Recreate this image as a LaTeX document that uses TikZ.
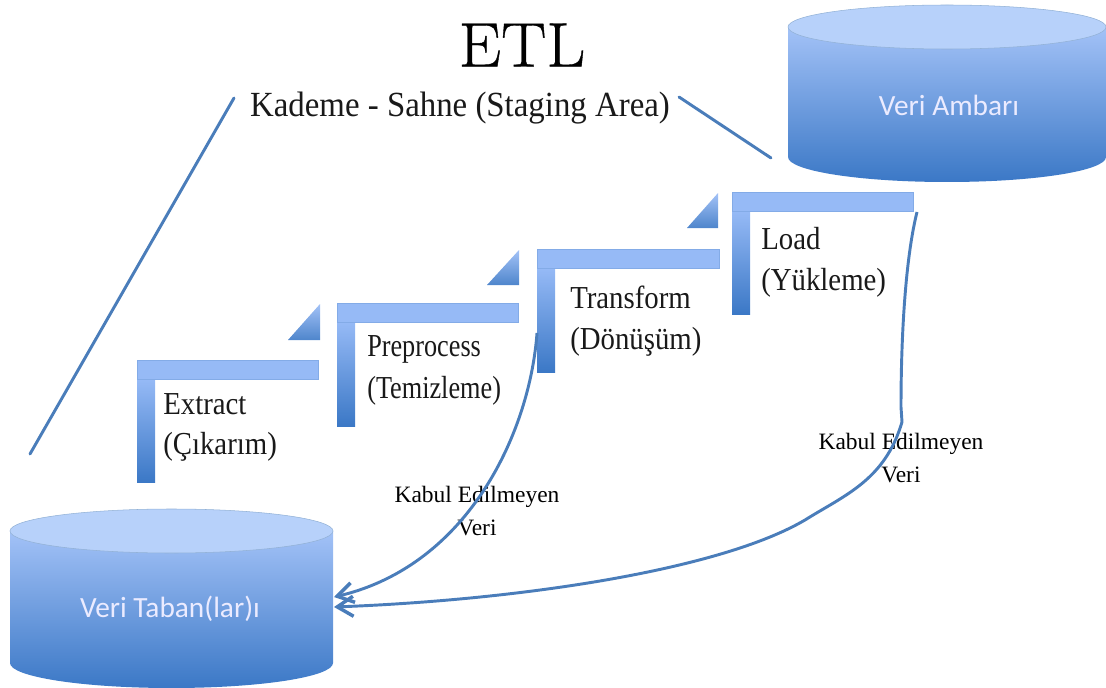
\documentclass[tikz,border=0pt]{standalone}
\usepackage{fontspec}
\setmainfont{Liberation Serif}
\newfontfamily\calib{Carlito}
\newfontfamily\lmr[FakeStretch=1.08,FakeBold=0.6]{Latin Modern Roman}
\newfontfamily\lblfont[FakeStretch=0.9]{Liberation Serif}
\newfontfamily\lblnarrow[FakeStretch=0.82]{Liberation Serif}
\newfontfamily\stagefont[FakeStretch=0.93]{Liberation Serif}
\usetikzlibrary{arrows.meta}
\definecolor{gtop}{HTML}{A3C2F7}
\definecolor{gbot}{HTML}{3B78C6}
\definecolor{armc}{HTML}{96BAF6}
\definecolor{lidc}{HTML}{B7D1FA}
\definecolor{linec}{HTML}{4A7DBA}
\tikzset{
  lbl/.style={font=\lblfont\fontsize{24}{30.5}\selectfont,align=left,anchor=north west,inner sep=0pt,text=black!90},
  lblcompact/.style={lbl,font=\lblnarrow\fontsize{24}{32}\selectfont},
  reject/.style={font=\fontsize{17.6}{25}\selectfont,align=center,text=black},
  dbtext/.style={font=\calib\fontsize{22}{26}\selectfont,text=white!92!blue},
  staging/.style={line width=2.2pt,draw=linec,line cap=round},
  rejectline/.style={line width=2.2pt,draw=linec,-{Straight Barb[length=12pt,width=15pt,line width=2.6pt]}},
  arm/.style={fill=armc,draw=armc!75!linec,line width=0.4pt},
  stem/.style={top color=armc,bottom color=gbot,draw=none},
  wedge/.style={top color=gtop,bottom color=gbot!90,draw=none},
}
\newcommand{\cyl}[5]{% left right lidcentre sidebottom ry
  \path[top color=gtop,bottom color=gbot,draw=none]
    (#1,#3) -- (#1,#4) arc[start angle=180,end angle=0,x radius={(#2-#1)/2},y radius=25]
    -- (#2,#3) -- cycle;
  \path[fill=lidc,draw=linec!60,line width=0.4pt]
    ({(#1+#2)/2},#3) ellipse[x radius={(#2-#1)/2},y radius=#5];
}
\newcommand{\stepshape}[4]{% left top armright stembottom
  \path[stem] (#1,{#2+19}) rectangle ({#1+18},#4);
  \path[arm] (#1,#2) -- (#3,#2) -- (#3,{#2+19}) -- (#1,{#2+19}) -- cycle;
}
\begin{document}
\begin{tikzpicture}[x=0.75pt,y=-0.75pt]
\useasboundingbox (0,0) rectangle (1106,688);
\cyl{788}{1106}{27}{157}{22}
\cyl{10}{333}{531}{663}{22}
\stepshape{137}{360}{318}{482}
\stepshape{337}{303}{518}{426}
\stepshape{537}{249}{719}{372}
\stepshape{732}{192}{913}{314}
\path[wedge] (288,340) -- (320,340) -- (320,304) -- cycle;
\path[wedge] (487,285) -- (519,285) -- (519,250) -- cycle;
\path[wedge] (687,228) -- (718,228) -- (718,193) -- cycle;

\node (title) at (522,45) {\lmr\fontsize{47}{50}\selectfont ETL};
\node[font=\stagefont\fontsize{26.5}{30}\selectfont,text=black!90] (stage) at (460,108) {Kademe - Sahne (Staging Area)};
\node[dbtext] (dwh) at (949,105) {Veri Ambarı};
\node[dbtext] (db) at (170,609) {Veri Taban(lar)ı};
\node[lbl] (ext) at (163,393) {Extract\\(Çıkarım)};
\node[lblcompact] (pre) at (367,335) {Preprocess\\(Temizleme)};
\node[lbl] (tra) at (570,286) {Transform\\(Dönüşüm)};
\node[lbl] (loa) at (761,227) {Load\\(Yükleme)};
\node[reject] (rej1) at (477,511) {Kabul Edilmeyen\\Veri};
\node[reject] (rej2) at (901,458) {Kabul Edilmeyen\\Veri};

\coordinate (s1) at (30,454);
\coordinate (s2) at (234,98);
\coordinate (s3) at (679,97);
\coordinate (s4) at (771,158);
\coordinate (r1) at (537,333);
\coordinate (r2) at (917,212);
\coordinate (d1) at (334,597);
\coordinate (d2) at (334,607);
\draw[staging] (s1) -- (s2);
\draw[staging] (s3) -- (s4);
\draw[rejectline] (r1) .. controls (530,430) and (470,565) .. (d1);
\draw[rejectline] (r2) .. controls (905,260) and (901,340) .. (901,407)
  -- (902,422) .. controls (885,480) and (845,495) .. (805,520)
  .. controls (720,570) and (520,600) .. (d2);
\end{tikzpicture}
\end{document}
